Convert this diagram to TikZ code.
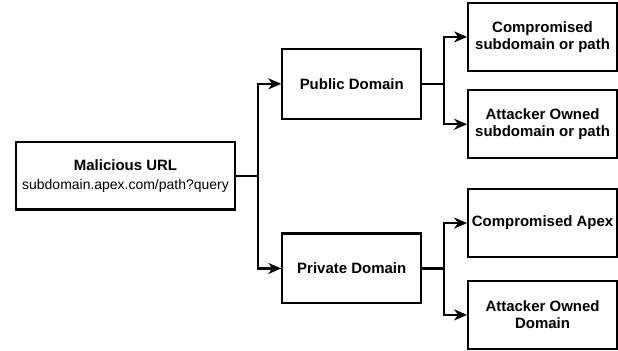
\documentclass[tikz,border=0pt]{standalone}
\usepackage{fontspec}
\setsansfont{Liberation Sans}
\usepackage{tikz}
\usetikzlibrary{arrows.meta, positioning}

\begin{document}
\begin{tikzpicture}[
  root/.style={rectangle, draw=black, line width=2.2pt, fill=white,
               minimum width=220pt, minimum height=68pt, align=center,
               font=\sffamily\fontsize{14}{19}\selectfont},
  domainbox/.style={rectangle, draw=black, line width=2.2pt, fill=white,
                    minimum width=139pt, minimum height=70pt,
                    font=\sffamily\bfseries\fontsize{15}{17}\selectfont},
  leaf/.style={rectangle, draw=black, line width=2.2pt, fill=white,
               minimum width=149pt, minimum height=68pt, align=center, inner sep=1pt,
               font=\sffamily\bfseries\fontsize{15}{17}\selectfont},
  arrow/.style={-{Stealth[length=13pt, width=11pt, inset=4pt]}, line width=2.2pt, black}
]
\node[root] (url) at (0,0) {\textbf{\fontsize{15}{19}\selectfont Malicious URL}\\subdomain.apex.com/path?query};

% second level
\node[domainbox, right=45pt of url, yshift= 92pt] (public)  {Public Domain};
\node[domainbox, right=45pt of url, yshift=-93pt] (private) {Private Domain};

% leaves
\node[leaf, right=45pt of public,  yshift= 47pt]   (pubcomp)  {Compromised\\subdomain or path};
\node[leaf, right=45pt of public,  yshift=-40.5pt] (pubowned) {Attacker Owned\\subdomain or path};
\node[leaf, right=45pt of private, yshift= 45.5pt] (privcomp)  {Compromised Apex};
\node[leaf, right=45pt of private, yshift=-46.5pt] (privowned) {Attacker Owned\\Domain};

\draw[arrow] (url.east) -- ++(22pt,0) |- (public.west);
\draw[arrow] (url.east) -- ++(22pt,0) |- (private.west);

\draw[arrow] (public.east) -- ++(22pt,0) |- (pubcomp.west);
\draw[arrow] (public.east) -- ++(22pt,0) |- (pubowned.west);
\draw[arrow] (private.east) -- ++(22pt,0) |- (privcomp.west);
\draw[arrow] (private.east) -- ++(22pt,0) |- (privowned.west);

\useasboundingbox (-125.75pt,-175pt) rectangle (492.25pt,176pt);
\end{tikzpicture}
\end{document}
